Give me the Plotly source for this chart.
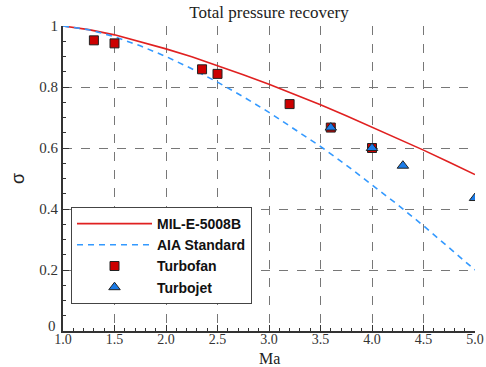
import plotly.graph_objects as go

# Data
mach_curve = [1.0, 1.25, 1.5, 1.75, 2.0, 2.25, 2.5, 2.75, 3.0, 3.25, 3.5, 3.75, 4.0, 4.25, 4.5, 4.75, 5.0]
mil_e_5008b = [1.0, 0.988, 0.971, 0.949, 0.925, 0.899, 0.870, 0.840, 0.809, 0.776, 0.742, 0.706, 0.669, 0.632, 0.593, 0.553, 0.513]
aia_standard = [1.0, 0.988, 0.965, 0.935, 0.900, 0.860, 0.816, 0.768, 0.717, 0.662, 0.605, 0.544, 0.480, 0.414, 0.345, 0.274, 0.200]

turbofan_ma = [1.3, 1.5, 2.35, 2.5, 3.2, 3.6, 4.0]
turbofan_sigma = [0.953, 0.943, 0.858, 0.843, 0.744, 0.667, 0.600]

turbojet_ma = [3.6, 4.0, 4.3, 5.0]
turbojet_sigma = [0.667, 0.600, 0.542, 0.436]

x_ticks = [1.0, 1.5, 2.0, 2.5, 3.0, 3.5, 4.0, 4.5, 5.0]
x_ticktext = ["1.0", "1.5", "2.0", "2.5", "3.0", "3.5", "4.0", "4.5", "5.0"]
y_ticks = [0.2, 0.4, 0.6, 0.8, 1.0]
y_ticktext = ["0.2", "0.4", "0.6", "0.8", "1"]
y_origin_label = "0"

fig = go.Figure()
fig.add_trace(go.Scatter(x=mach_curve, y=mil_e_5008b, mode="lines", name="MIL-E-5008B",
                         line=dict(color="#e02020", width=1.6)))
fig.add_trace(go.Scatter(x=mach_curve, y=aia_standard, mode="lines", name="AIA Standard",
                         line=dict(color="#3399ff", width=1.6, dash="6px,5px")))
fig.add_trace(go.Scatter(x=turbofan_ma, y=turbofan_sigma, mode="markers", name="Turbofan",
                         marker=dict(symbol="square", size=9, color="#cc0000",
                                     line=dict(color="#222222", width=1))))
fig.add_trace(go.Scatter(x=turbojet_ma, y=turbojet_sigma, mode="markers", name="Turbojet",
                         marker=dict(symbol="triangle-up", size=10, color="#1a7be8",
                                     line=dict(color="#222222", width=1))))

serif = "Liberation Serif, Times New Roman, serif"
W, H = 486, 367
L, R, T, B = 63, 11, 26, 36
pw, ph = W - L - R, H - T - B
fig.update_layout(
    width=W, height=H,
    margin=dict(l=L, r=R, t=T, b=B),
    paper_bgcolor="white", plot_bgcolor="white",
    title=dict(text="Total pressure recovery", x=269/W, xanchor="center",
               y=1 - 12/H, yanchor="middle",
               font=dict(family=serif, size=17, color="#222222")),
    showlegend=True,
    legend=dict(x=(71 - L) / pw, y=(H - B - 207) / ph, xanchor="left", yanchor="top",
                bgcolor="white", bordercolor="#444444", borderwidth=1,
                font=dict(family="Liberation Sans, Arial, sans-serif", size=14, color="#111111",
                          weight="bold"),
                itemwidth=75, tracegroupgap=0),
    xaxis=dict(range=[1.0, 5.0], tickvals=x_ticks, ticktext=x_ticktext, automargin=False,
               showgrid=True, gridcolor="#777777", griddash="dash", gridwidth=1,
               zeroline=False, showline=True, linecolor="#333333", linewidth=2,
               ticks="inside", ticklen=6, tickcolor="#333333", ticklabelstandoff=-6,
               minor=dict(dtick=0.1, ticks="inside", ticklen=3, tickcolor="#333333", showgrid=False),
               tickfont=dict(family=serif, size=14, color="#333333")),
    yaxis=dict(range=[0, 1.0], tickvals=y_ticks, ticktext=y_ticktext, automargin=False,
               showgrid=True, gridcolor="#777777", griddash="dash", gridwidth=1,
               zeroline=False, showline=True, linecolor="#333333", linewidth=2,
               ticks="inside", ticklen=6, tickcolor="#333333",
               minor=dict(dtick=0.05, ticks="inside", ticklen=3, tickcolor="#333333", showgrid=False),
               tickfont=dict(family=serif, size=15, color="#333333"),
               title=dict(text="σ", font=dict(family="Liberation Sans, Arial, sans-serif", size=18, color="#222222"), standoff=10)),
    annotations=[
        dict(text="Ma", xref="paper", yref="paper", x=0.5, y=-(358 - (H - B)) / ph,
             xanchor="center", yanchor="middle", showarrow=False,
             font=dict(family=serif, size=16, color="#222222")),
        dict(text=y_origin_label, xref="paper", yref="y", x=-(63 - 58) / pw, y=0, yshift=5,
             xanchor="right", yanchor="middle", showarrow=False,
             font=dict(family=serif, size=15, color="#333333")),
    ],
)
fig.write_html("out.html")
